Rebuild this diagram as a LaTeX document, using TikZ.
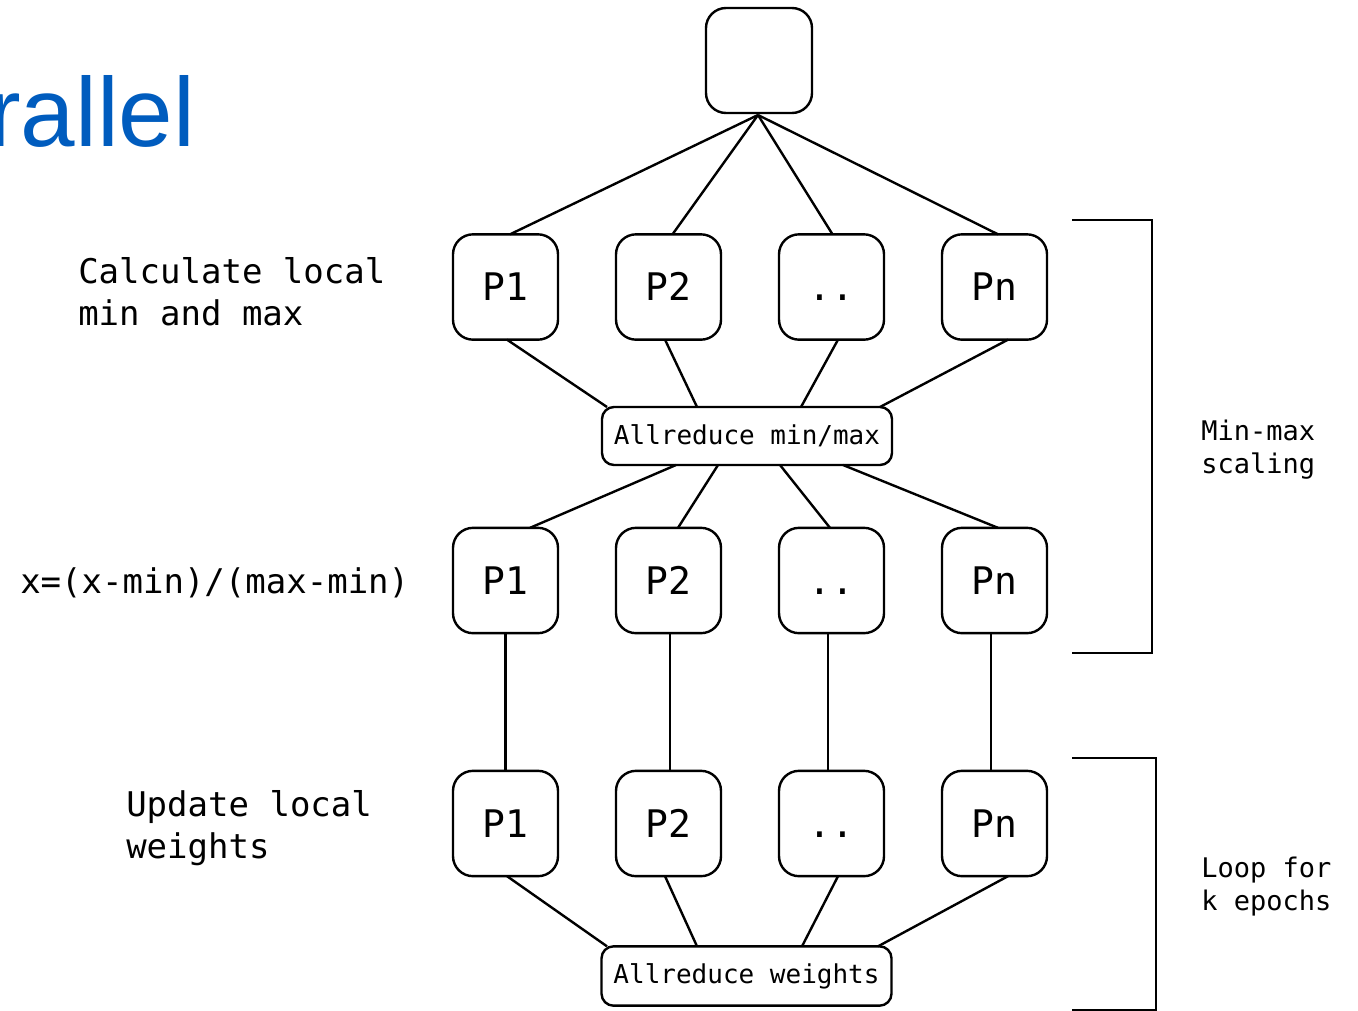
\documentclass[tikz,border=0pt]{standalone}
\usepackage{fontspec}
\setmonofont{DejaVu Sans Mono}
\newfontfamily\titlefont{Liberation Sans}
\usetikzlibrary{calc}
\definecolor{titleblue}{RGB}{0,92,190}
\newcommand{\mylines}[2]{\begin{tabular}[t]{@{}l@{}}#1\\#2\end{tabular}}
\begin{document}
\begin{tikzpicture}[x=0.75pt,y=-0.75pt,
  pbox/.style={draw,line width=1.8pt,rounded corners=15pt,minimum width=78.75pt,minimum height=79pt,inner sep=0pt,outer sep=0pt,text height=20.8pt,text depth=0pt,font=\ttfamily\fontsize{28.5pt}{34pt}\selectfont},
  arbox/.style={draw,line width=1.8pt,rounded corners=9pt,minimum width=217.5pt,minimum height=44.5pt,inner sep=0pt,outer sep=0pt,font=\ttfamily\fontsize{19.5pt}{24pt}\selectfont},
  conn/.style={line width=1.8pt},
  bigtxt/.style={anchor=base west,inner sep=0pt,font=\ttfamily\fontsize{25.5pt}{31.5pt}\selectfont},
  smalltxt/.style={anchor=base west,inner sep=0pt,font=\ttfamily\fontsize{20.25pt}{24.75pt}\selectfont},
  bracket/.style={line width=1.8pt}]
\useasboundingbox (0,0) rectangle (1358,1010);

% title
\node[anchor=base west,inner sep=0pt,text=titleblue,font=\titlefont\fontsize{73.5pt}{80pt}\selectfont] (title) at (-12,146) {rallel};

% boxes
\node[pbox,minimum width=79.5pt,minimum height=78.75pt] (top) at (759,60.5) {};
\foreach \r/\y in {a/287,b/580.5,c/823.5}{
  \node[pbox] (\r1) at (505.5,\y) {P1};
  \node[pbox] (\r2) at (668.5,\y) {P2};
  \node[pbox] (\r3) at (831.5,\y) {..};
  \node[pbox] (\r4) at (994.5,\y) {Pn};
}
\node[arbox,minimum height=43.5pt] (ar1) at (747,436) {Allreduce min/max};
\node[arbox] (ar2) at (746.5,976) {Allreduce weights};

% top to row 1
\draw[conn] ($(top.south)+(-1,2)$) -- ($(a1.north)+(4.5,0)$);
\draw[conn] ($(top.south)+(-1,2)$) -- ($(a2.north)+(4,0)$);
\draw[conn] ($(top.south)+(-1,2)$) -- ($(a3.north)+(1,0)$);
\draw[conn] ($(top.south)+(-1,2)$) -- ($(a4.north)+(3.5,0)$);

% row 1 to allreduce min/max
\draw[conn] ($(a1.south)+(1.5,0)$) -- ($(ar1.north)+(-140,0)$);
\draw[conn] ($(a2.south)+(-3.5,0)$) -- ($(ar1.north)+(-50,0)$);
\draw[conn] ($(a3.south)+(6.5,0)$) -- ($(ar1.north)+(54,0)$);
\draw[conn] ($(a4.south)+(13.5,0)$) -- ($(ar1.north)+(133,0)$);

% allreduce min/max to row 2
\draw[conn] ($(ar1.south)+(-71,0)$) -- ($(b1.north)+(24.5,0)$);
\draw[conn] ($(ar1.south)+(-29,0)$) -- ($(b2.north)+(9.5,0)$);
\draw[conn] ($(ar1.south)+(33,0)$) -- ($(b3.north)+(-1.5,0)$);
\draw[conn] ($(ar1.south)+(96,0)$) -- ($(b4.north)+(3.5,0)$);

% row 2 to row 3
\draw[conn] (b1.south) -- (c1.north);
\draw[conn] ($(b2.south)+(1.5,0)$) -- ($(c2.north)+(1.5,0)$);
\draw[conn] ($(b3.south)+(-3.5,0)$) -- ($(c3.north)+(-3.5,0)$);
\draw[conn] ($(b4.south)+(-3.5,0)$) -- ($(c4.north)+(-3.5,0)$);

% row 3 to allreduce weights
\draw[conn] ($(c1.south)+(1.5,0)$) -- ($(ar2.north)+(-139.5,0)$);
\draw[conn] ($(c2.south)+(-3.5,0)$) -- ($(ar2.north)+(-49.5,0)$);
\draw[conn] ($(c3.south)+(6.5,0)$) -- ($(ar2.north)+(55.5,0)$);
\draw[conn] ($(c4.south)+(13.5,0)$) -- ($(ar2.north)+(131.5,0)$);

% brackets
\draw[bracket] (1072,220) -- (1152,220) -- (1152,653) -- (1072,653);
\draw[bracket] (1072,758) -- (1156,758) -- (1156,1010) -- (1072,1010);

% left labels
\node[bigtxt] (lcalc) at (78,283) {\mylines{Calculate local}{min and max}};
\node[bigtxt] (lform) at (20,593) {x=(x-min)/(max-min)};
\node[bigtxt] (lupd) at (126,816) {\mylines{Update local}{weights}};

% right labels
\node[smalltxt] (lmm) at (1201,440) {\mylines{Min-max}{scaling}};
\node[smalltxt] (lloop) at (1201,877) {\mylines{Loop for}{k epochs}};
\end{tikzpicture}
\end{document}
